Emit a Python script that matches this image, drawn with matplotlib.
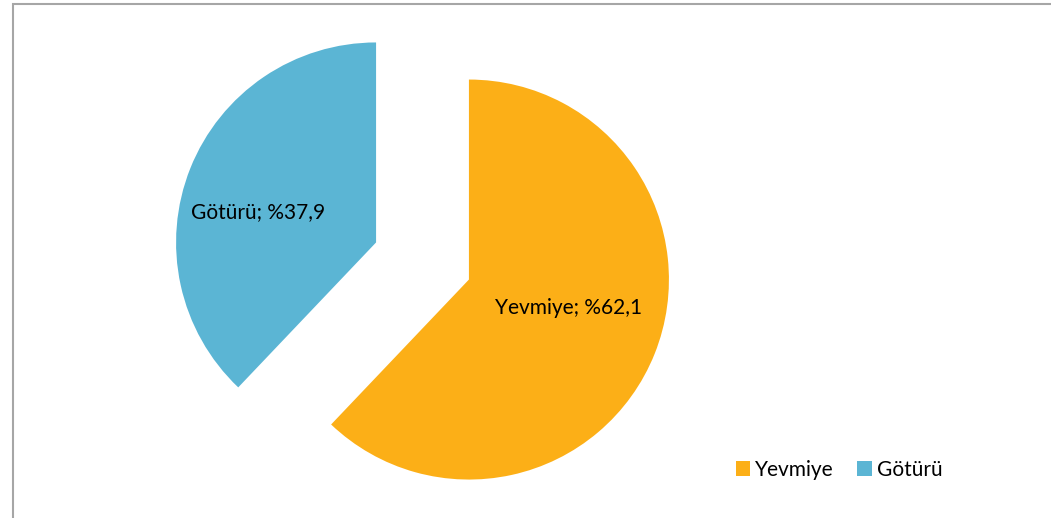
import matplotlib
matplotlib.use("Agg")
import matplotlib.pyplot as plt
from matplotlib.patches import Rectangle

categories = ["Yevmiye", "Götürü"]
values = [62.1, 37.9]
labels = ["Yevmiye; %62,1", "Götürü; %37,9"]
colors = ["#FCAF17", "#5BB5D4"]

plt.rcParams['font.family'] = ['Lato', 'DejaVu Sans']

W, H = 1051, 518
fig = plt.figure(figsize=(W / 100, H / 100), dpi=100)
fig.patch.set_facecolor("white")

# chart border (extends beyond right/bottom edge)
fig.add_artist(Rectangle((13 / W, -0.05), 1.1, 1 - 4 / H + 0.05, transform=fig.transFigure,
                         fill=False, edgecolor="#A6A6A6", linewidth=1.5))

ax = fig.add_axes([0, 0, 1, 1])
R = 200.0
cx, cy = 422.5, 261.0
wedges, texts = ax.pie(values, labels=labels, colors=colors, startangle=90,
                       counterclock=False, explode=[0.25, 0.25], radius=1,
                       labeldistance=0.58, textprops=dict(fontsize=15, color="black"),
                       wedgeprops=dict(linewidth=0))
label_offsets = [(0.50, -0.14), (-0.59, 0.15)]
for w, t, (dx, dy) in zip(wedges, texts, label_offsets):
    t.set_horizontalalignment("center")
    t.set_verticalalignment("center")
    x0, y0 = w.center
    t.set_position((x0 + dx, y0 + dy))
ax.set_xlim(-cx / R, (W - cx) / R)
ax.set_ylim(-(H - cy) / R, cy / R)
ax.set_aspect("auto")
ax.axis("off")

fig.legend(wedges, categories, loc="center", bbox_to_anchor=(839 / W, 1 - 470 / H),
           ncol=2, frameon=False, fontsize=15, handlelength=0.7, handleheight=0.7,
           handletextpad=0.25, columnspacing=1.1)

fig.savefig("out.png", dpi=100, facecolor="white")
